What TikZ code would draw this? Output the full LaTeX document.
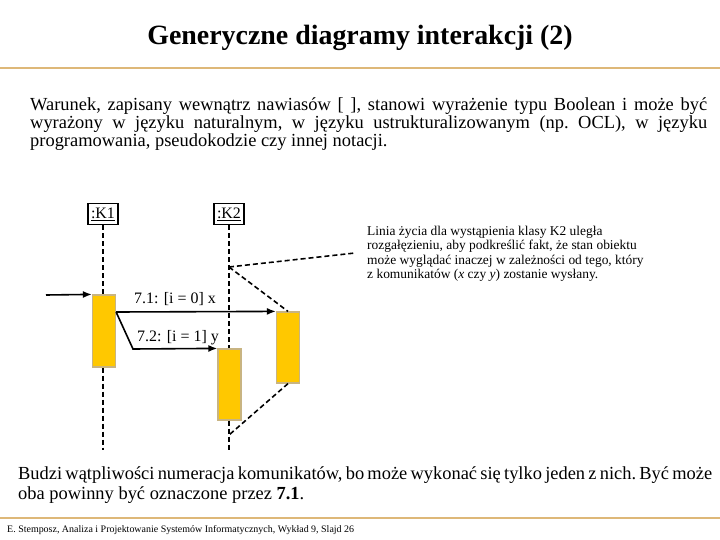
\documentclass[tikz,border=0pt]{standalone}
\usepackage{fontspec}
\setmainfont{Liberation Serif}
\usetikzlibrary{arrows.meta}
\definecolor{rulec}{RGB}{222,184,120}
\definecolor{actc}{RGB}{255,200,0}
\definecolor{actb}{RGB}{200,180,130}
\tikzset{
  obj/.style={draw,line width=1.8bp,inner sep=3pt,minimum height=21bp,font=\fontsize{16}{17}\selectfont},
  act/.style={fill=actc,draw=actb,line width=1.2bp,minimum width=23bp,inner sep=0},
  life/.style={line width=1.6bp,dash pattern=on 5bp off 3bp},
  msg/.style={line width=1.6bp,-{Latex[length=9bp,width=7bp]}},
  lbl/.style={font=\fontsize{16}{17}\selectfont,inner sep=0}
}
\begin{document}
\begin{tikzpicture}[x=1bp,y=-1bp]
\useasboundingbox (0,0) rectangle (720,540);
\node[font=\bfseries\fontsize{28}{30}\selectfont] (title) at (360,38) {Generyczne diagramy interakcji (2)};
\draw[rulec,line width=1.5pt] (0,68) coordinate (r1) -- (720,68) coordinate (r2);
\node[anchor=north west,text width=677bp,align=justify,inner sep=0,font=\fontsize{18.5}{18.5}\selectfont\frenchspacing] (intro) at (30,97)
 {Warunek, zapisany wewnątrz nawiasów [ ], stanowi wyrażenie typu Boolean i może być\linebreak wyrażony w języku naturalnym, w języku ustrukturalizowanym (np. OCL), w języku\linebreak programowania, pseudokodzie czy innej notacji.};
\node[obj] (k1) at (103,214) {\underline{:K1}};
\node[obj] (k2) at (229,214) {\underline{:K2}};
\node[act,minimum height=72bp] (a1) at (104,331) {};
\node[act,minimum height=71bp] (a3) at (288,347.5) {};
\node[act,minimum height=71bp] (a2) at (229.5,384.5) {};
\coordinate (in) at (46,295);
\coordinate (br) at (229,267);
\coordinate (k2b) at (229,435);
\coordinate (k1e) at (103,450);
\coordinate (k2e) at (229,450);
\coordinate (bend) at (133,349);
\coordinate (notep) at (355,253);
\draw[life] (k1) -- (a1.north -| k1);
\draw[life] (a1.south -| k1) -- (k1e);
\draw[life] (k2) -- (a2.north -| k2);
\draw[life] (a2.south -| k2) -- (k2e);
\draw[life] (br) -- (a3.north);
\draw[life] (a3.south) -- (k2b);
\draw[life] (br) -- (notep);
\draw[msg] (in) -- (a1.north west);
\draw[msg] (a1.east |- 0,312) -- (a3.north west);
\draw[msg] (a1.east |- 0,312) -- (bend) -- (a2.north west);
\node[lbl,anchor=base west] (l1) at (134,303) {7.1: [i = 0] x};
\node[lbl,anchor=base west] (l2) at (137,341) {7.2: [i = 1] y};
\node[anchor=north west,inner sep=0,align=left,font=\fontsize{13.5}{14.5}\selectfont] (note) at (367,226)
 {Linia życia dla wystąpienia klasy K2 uległa\\rozgałęzieniu, aby podkreślić fakt, że stan obiektu\\może wyglądać inaczej w zależności od tego, który\\z komunikatów (\textit{x} czy \textit{y}) zostanie wysłany.};
\node[anchor=north west,text width=694bp,align=justify,inner sep=0,font=\fontsize{18.5}{21}\selectfont\frenchspacing] (outro) at (18,466)
 {Budzi wątpliwości numeracja komunikatów, bo może wykonać się tylko jeden z nich. Być może\linebreak oba powinny być oznaczone przez \textbf{7.1}.};
\draw[rulec,line width=1.5pt] (0,518) coordinate (f1) -- (720,518) coordinate (f2);
\node[anchor=west,inner sep=0,font=\fontsize{10}{11}\selectfont] (foot) at (7,530) {E. Stemposz, Analiza i Projektowanie Systemów Informatycznych, Wykład 9, Slajd 26};
\end{tikzpicture}
\end{document}
